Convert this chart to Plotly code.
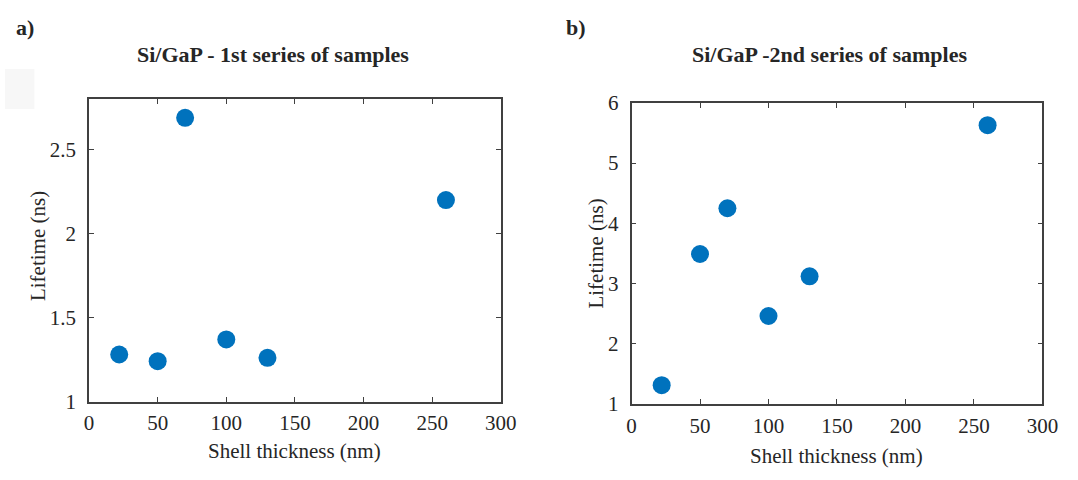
import plotly.graph_objects as go

# Series 1: Si/GaP, first batch of samples
thickness_1 = [22, 50, 70, 100, 130, 260]
lifetime_1 = [1.28, 1.24, 2.69, 1.37, 1.26, 2.20]

# Series 2: Si/GaP, second batch of samples
thickness_2 = [22, 50, 70, 100, 130, 260]
lifetime_2 = [1.31, 3.49, 4.25, 2.46, 3.12, 5.63]

x_ticks = [0, 50, 100, 150, 200, 250, 300]
y_ticks_1 = [1, 1.5, 2, 2.5]
y_ticks_2 = [1, 2, 3, 4, 5, 6]

W, H = 1078, 480
MARKER = "#0072BD"
AXIS = "#404040"
TEXT = "#262626"
FONT = "Liberation Serif"

def px_x(p):
    return p / W

def px_y(p):
    return 1 - p / H

# panel boxes in pixels: (left, right, top, bottom)
box_a = (85.7, 505.7, 92.0, 410.0)
box_b = (639.0, 1058.0, 95.7, 412.5)

fig = go.Figure()
fig.add_trace(go.Scatter(x=thickness_1, y=lifetime_1, mode="markers",
                         marker=dict(size=18, color=MARKER),
                         xaxis="x", yaxis="y", showlegend=False))
fig.add_trace(go.Scatter(x=thickness_2, y=lifetime_2, mode="markers",
                         marker=dict(size=18, color=MARKER),
                         xaxis="x2", yaxis="y2", showlegend=False))

def axis_style(**kw):
    base = dict(showline=True, linecolor=AXIS, linewidth=1.5, mirror="ticks",
                ticks="inside", ticklen=5, tickwidth=1.2, tickcolor=AXIS,
                showgrid=False, zeroline=False,
                tickfont=dict(family=FONT, size=21, color=TEXT))
    base.update(kw)
    return base

fig.update_layout(
    width=W, height=H,
    margin=dict(l=0, r=0, t=0, b=0),
    paper_bgcolor="white", plot_bgcolor="white",
    xaxis=axis_style(domain=[px_x(box_a[0]), px_x(box_a[1])], range=[0, 300],
                     tickvals=x_ticks, anchor="y", ticklabelstandoff=2),
    yaxis=axis_style(domain=[px_y(box_a[3]), px_y(box_a[2])], range=[1, 2.8],
                     tickvals=y_ticks_1, ticktext=["1", "1.5", "2", "2.5"],
                     anchor="x", ticklabelstandoff=7),
    xaxis2=axis_style(domain=[px_x(box_b[0]), px_x(box_b[1])], range=[0, 300],
                      tickvals=x_ticks, anchor="y2", ticklabelstandoff=2),
    yaxis2=axis_style(domain=[px_y(box_b[3]), px_y(box_b[2])], range=[1, 6],
                      tickvals=y_ticks_2, anchor="x2", ticklabelstandoff=7),
)

def label(text, x, y, size, angle=0, anchor="center"):
    fig.add_annotation(text=text, xref="paper", yref="paper",
                       x=px_x(x), y=px_y(y), xanchor=anchor, yanchor="middle",
                       textangle=angle, showarrow=False,
                       font=dict(family=FONT, size=size, color=TEXT))

# panel titles and letters
label("<b>Si/GaP - 1st series of samples</b>", 273, 45, 22)
label("<b>Si/GaP -2nd series of samples</b>", 841, 45, 22)
label("<b>a)</b>", 9, 16, 22, anchor="left")
label("<b>b)</b>", 570, 16, 22, anchor="left")

# axis titles
label("Shell thickness (nm)", (box_a[0] + box_a[1]) / 2, 462, 21)
label("Shell thickness (nm)", (box_b[0] + box_b[1]) / 2, 467, 21)
label("Lifetime (ns)", 33, 246, 21, angle=-90)
label("Lifetime (ns)", 603, 254, 21, angle=-90)

# faint patch at the top-left corner
fig.add_shape(type="rect", xref="paper", yref="paper",
              x0=0, x1=px_x(30), y0=px_y(102), y1=px_y(60),
              fillcolor="#f7f7f7", line=dict(width=0), layer="below")

fig.write_html("out.html")
